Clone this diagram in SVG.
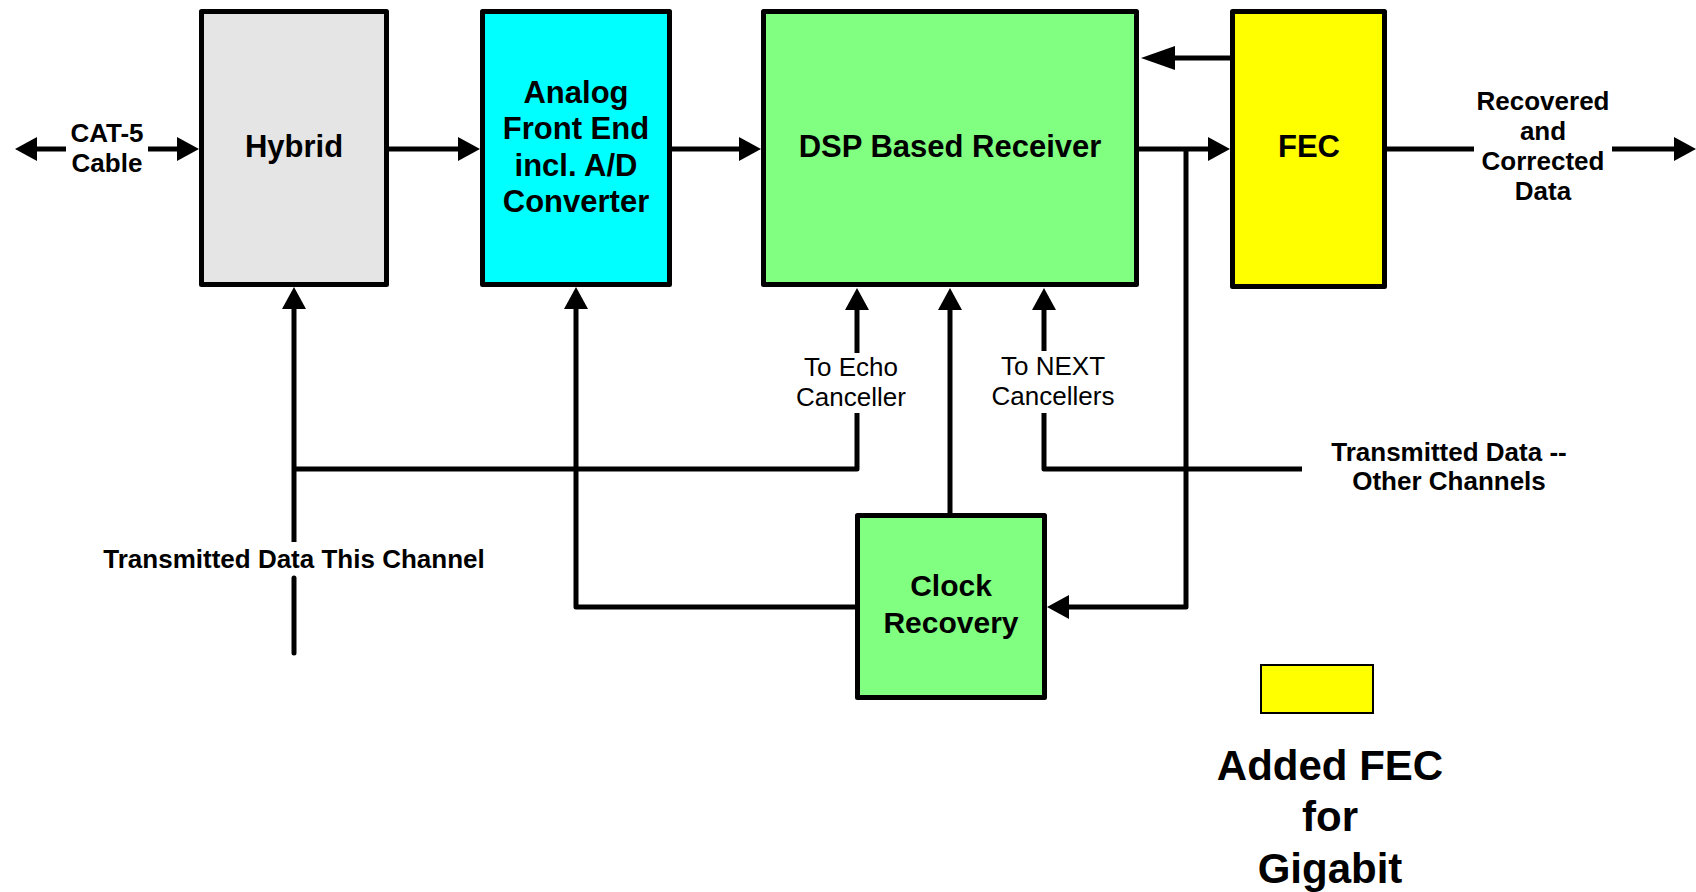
<svg xmlns="http://www.w3.org/2000/svg" width="1696" height="892" viewBox="0 0 1696 892">
<defs>
<style>
.box{stroke:#000;stroke-width:5;stroke-linejoin:round}
.ln{fill:none;stroke:#000;stroke-width:5;stroke-linecap:butt;stroke-linejoin:round}
.t{font-family:"Liberation Sans",Arial,sans-serif;font-weight:bold;text-anchor:middle;fill:#000}
.r{font-family:"Liberation Sans",Arial,sans-serif;font-weight:normal;text-anchor:middle;fill:#000}
</style>
<marker id="ah" viewBox="0 0 22 24" refX="1" refY="12" markerWidth="22" markerHeight="24" markerUnits="userSpaceOnUse" orient="auto">
<path d="M0,0 L22,12 L0,24 z" fill="#000"/>
</marker>
<marker id="ahl" viewBox="0 0 34 24" refX="1" refY="12" markerWidth="34" markerHeight="24" markerUnits="userSpaceOnUse" orient="auto">
<path d="M0,0 L34,12 L0,24 z" fill="#000"/>
</marker>
</defs>
<rect width="1696" height="892" fill="#fff"/>

<g id="connectors">
<line class="ln" x1="66" y1="149" x2="36" y2="149" marker-end="url(#ah)"/>
<line class="ln" x1="148" y1="149" x2="178" y2="149" marker-end="url(#ah)"/>
<line class="ln" x1="389" y1="149" x2="459" y2="149" marker-end="url(#ah)"/>
<line class="ln" x1="672" y1="149" x2="740" y2="149" marker-end="url(#ah)"/>
<line class="ln" x1="1139" y1="149" x2="1209" y2="149" marker-end="url(#ah)"/>
<line class="ln" x1="1236" y1="58" x2="1174" y2="58" marker-end="url(#ahl)"/>
<line class="ln" x1="1387" y1="149" x2="1474" y2="149"/>
<line class="ln" x1="1612" y1="149" x2="1675" y2="149" marker-end="url(#ah)"/>
<path class="ln" d="M1186,149 V607 H1068" marker-end="url(#ah)"/>
<path class="ln" d="M855,607 H576 V308" marker-end="url(#ah)"/>
<line class="ln" x1="950" y1="513" x2="950" y2="309" marker-end="url(#ah)"/>
<line class="ln" x1="294" y1="653" x2="294" y2="578" style="stroke-linecap:round"/>
<line class="ln" x1="294" y1="542" x2="294" y2="308" marker-end="url(#ah)"/>
<path class="ln" d="M294,469 H857 V413"/>
<line class="ln" x1="857" y1="353" x2="857" y2="309" marker-end="url(#ah)"/>
<path class="ln" d="M1302,469 H1044 V413"/>
<line class="ln" x1="1044" y1="351" x2="1044" y2="309" marker-end="url(#ah)"/>
</g>

<g id="cat5-label">
<text class="t" x="107" y="142" font-size="26">CAT-5</text>
<text class="t" x="107" y="172" font-size="26">Cable</text>
</g>

<g id="hybrid">
<rect class="box" x="201.5" y="11.5" width="185" height="273" fill="#e5e5e5"/>
<text class="t" x="294" y="157" font-size="31">Hybrid</text>
</g>

<g id="afe">
<rect class="box" x="482.5" y="11.5" width="187" height="273" fill="#00ffff"/>
<text class="t" x="576" y="103" font-size="31">Analog</text>
<text class="t" x="576" y="139" font-size="31">Front End</text>
<text class="t" x="576" y="176" font-size="31">incl. A/D</text>
<text class="t" x="576" y="212" font-size="31">Converter</text>
</g>

<g id="dsp">
<rect class="box" x="763.5" y="11.5" width="373" height="273" fill="#80ff80"/>
<text class="t" x="950" y="157" font-size="31">DSP Based Receiver</text>
</g>

<g id="fec">
<rect class="box" x="1232.5" y="11.5" width="152" height="275" fill="#ffff00"/>
<text class="t" x="1309" y="157" font-size="31">FEC</text>
</g>

<g id="output-label">
<text class="t" x="1543" y="110" font-size="26">Recovered</text>
<text class="t" x="1543" y="140" font-size="26">and</text>
<text class="t" x="1543" y="170" font-size="26">Corrected</text>
<text class="t" x="1543" y="200" font-size="26">Data</text>
</g>

<g id="echo-label">
<text class="r" x="851" y="376" font-size="26">To Echo</text>
<text class="r" x="851" y="406" font-size="26">Canceller</text>
</g>

<g id="next-label">
<text class="r" x="1053" y="375" font-size="26">To NEXT</text>
<text class="r" x="1053" y="405" font-size="26">Cancellers</text>
</g>

<g id="other-channels-label">
<text class="t" x="1449" y="461" font-size="26">Transmitted Data --</text>
<text class="t" x="1449" y="490" font-size="26">Other Channels</text>
</g>

<g id="this-channel-label">
<text class="t" x="294" y="568" font-size="26">Transmitted Data This Channel</text>
</g>

<g id="clock-recovery">
<rect class="box" x="857.5" y="515.5" width="187" height="182" fill="#80ff80"/>
<text class="t" x="951" y="596" font-size="30">Clock</text>
<text class="t" x="951" y="633" font-size="30">Recovery</text>
</g>

<g id="legend">
<rect x="1261" y="665" width="112" height="48" fill="#ffff00" stroke="#000" stroke-width="2"/>
<text class="t" x="1330" y="780" font-size="42">Added FEC</text>
<text class="t" x="1330" y="831" font-size="42">for</text>
<text class="t" x="1330" y="883" font-size="42">Gigabit</text>
</g>
</svg>
